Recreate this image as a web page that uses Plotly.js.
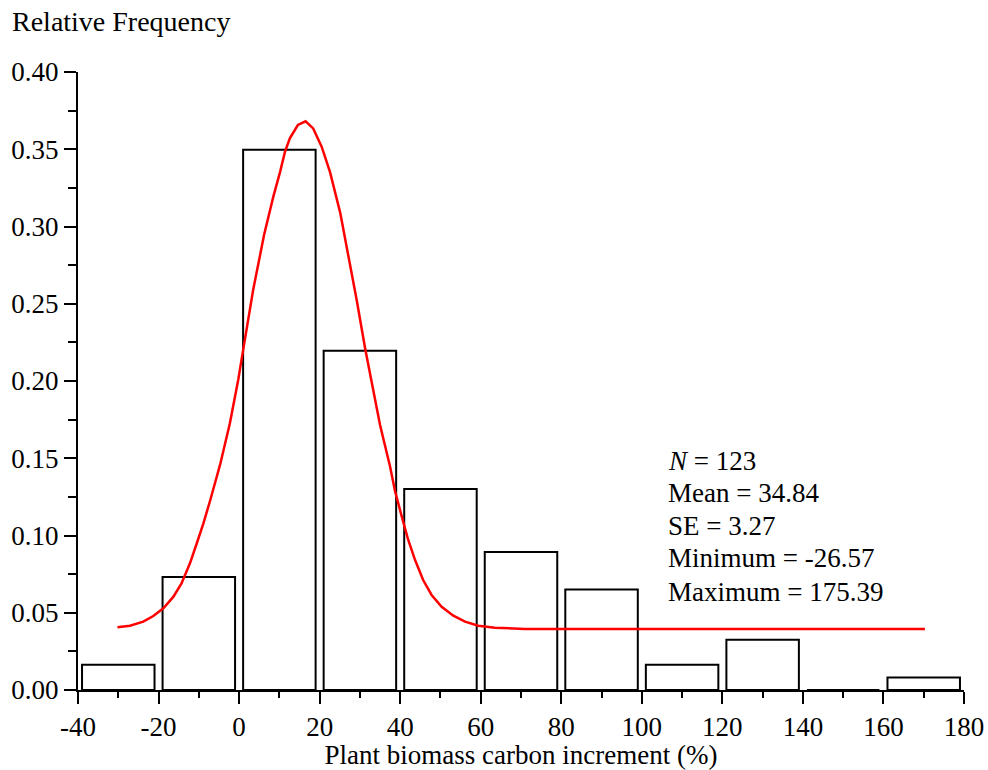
<!DOCTYPE html>
<html>
<head>
<meta charset="utf-8">
<script src="https://cdn.plot.ly/plotly-3.0.1.min.js"></script>
<style>html,body{margin:0;padding:0;background:#fff;}#chart{width:988px;height:770px;}</style>
</head>
<body>
<div id="chart"></div>
<script>
// Histogram bins (centres) and relative frequencies
const binCenters = [-30, -10, 10, 30, 50, 70, 90, 110, 130, 150, 170];
const relFreq = [0.0163, 0.0732, 0.3496, 0.2195, 0.1301, 0.0894, 0.0650, 0.0163, 0.0325, 0.0, 0.0081];

// Fitted curve, points
const curveX = [-30.2, -27.1, -23.8, -21.3, -18.8, -16.3, -14.3, -12.2, -10.5, -8.9, -7.2, -5.6, -4.7, -2.3, -0.2, 1.0, 3.5, 6.2, 8.5, 10.2, 11.4, 12.6, 14.6, 16.5, 18.4, 20.5, 22.6, 25.1, 27.1, 29.2, 31.3, 33.7, 35.0, 37.5, 38.7, 40.4, 42.0, 43.7, 45.7, 47.8, 50.3, 53.2, 56.1, 59.4, 63.5, 71.0, 100, 130, 170.3];
const curveY = [0.0406, 0.0416, 0.0442, 0.0479, 0.0529, 0.0604, 0.0690, 0.0820, 0.0950, 0.1075, 0.1225, 0.1375, 0.1460, 0.1725, 0.2010, 0.2200, 0.2590, 0.2945, 0.3193, 0.3355, 0.3484, 0.3571, 0.3657, 0.3681, 0.3635, 0.3517, 0.3350, 0.3090, 0.2815, 0.2524, 0.2210, 0.1877, 0.1715, 0.1445, 0.1290, 0.1122, 0.0971, 0.0841, 0.0712, 0.0615, 0.0539, 0.0481, 0.0442, 0.0416, 0.0403, 0.0395, 0.0395, 0.0395, 0.0395];

// Tick labels
const xTickVals = [-40, -20, 0, 20, 40, 60, 80, 100, 120, 140, 160, 180];
const xTickText = ["-40", "-20", "0", "20", "40", "60", "80", "100", "120", "140", "160", "180"];

// Statistics text
const statLines = ["<i>N</i> = 123", "Mean = 34.84", "SE = 3.27", "Minimum = -26.57", "Maximum = 175.39"];

const FONT = "Liberation Serif, Times New Roman, serif";
const FS = 27;

const traces = [
  {
    type: 'bar', x: binCenters, y: relFreq,
    marker: {color: '#ffffff', line: {color: '#000000', width: 2}},
    hoverinfo: 'x+y', showlegend: false
  },
  {
    type: 'scatter', mode: 'lines', x: curveX, y: curveY,
    line: {color: '#ff0000', width: 2.5}, showlegend: false
  }
];

const statY = [0.1482, 0.1275, 0.1061, 0.0854, 0.0634];
const annotations = statLines.map((t, i) => ({
  x: 106, y: statY[i], xref: 'x', yref: 'y', text: t, showarrow: false,
  xanchor: 'left', yanchor: 'middle', font: {family: FONT, size: FS, color: '#000'}
}));
annotations.push({
  x: -0.0767, y: 1.081, xref: 'paper', yref: 'paper', text: 'Relative Frequency',
  showarrow: false, xanchor: 'left', yanchor: 'middle',
  font: {family: FONT, size: 28, color: '#000'}
});

const layout = {
  width: 988, height: 770,
  margin: {l: 78, r: 24, t: 72, b: 80},
  paper_bgcolor: '#fff', plot_bgcolor: '#fff',
  bargap: 0.1,
  font: {family: FONT, size: FS, color: '#000'},
  xaxis: {
    range: [-40, 180], tickmode: 'array', tickvals: xTickVals, ticktext: xTickText,
    showgrid: false, zeroline: false, showline: true, linecolor: '#000', linewidth: 2,
    ticks: 'outside', ticklen: 12, tickwidth: 2, tickcolor: '#000',
    minor: {dtick: 10, tick0: -40, ticks: 'outside', ticklen: 6, tickwidth: 2, tickcolor: '#000', showgrid: false},
    tickfont: {family: FONT, size: FS, color: '#000'},
    title: {text: 'Plant biomass carbon increment (%)', font: {family: FONT, size: FS, color: '#000'}, standoff: 6}
  },
  yaxis: {
    range: [0, 0.4], tickmode: 'linear', tick0: 0, dtick: 0.05, tickformat: '.2f',
    showgrid: false, zeroline: false, showline: true, linecolor: '#000', linewidth: 2,
    ticks: 'outside', ticklen: 12, tickwidth: 2, tickcolor: '#000',
    minor: {dtick: 0.025, ticks: 'outside', ticklen: 8, tickwidth: 2, tickcolor: '#000', showgrid: false},
    tickfont: {family: FONT, size: FS, color: '#000'}
  },
  annotations: annotations
};

Plotly.newPlot('chart', traces, layout, {displayModeBar: false, staticPlot: true});
</script>
</body>
</html>
